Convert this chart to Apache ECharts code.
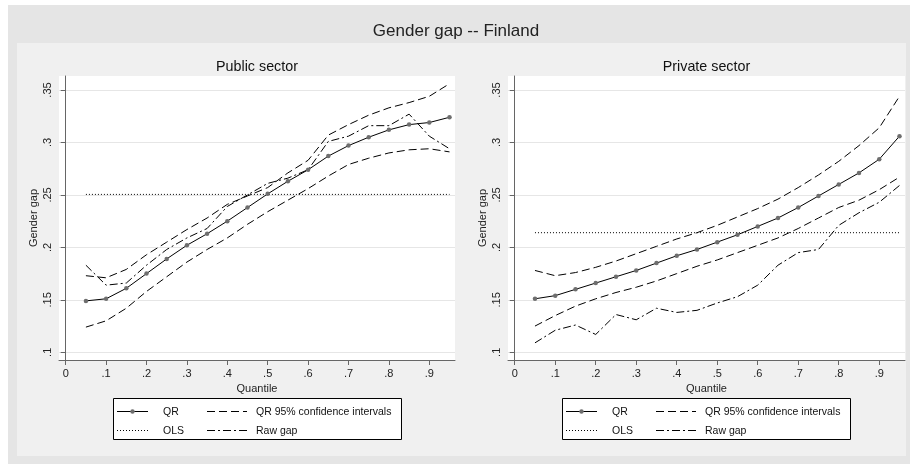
<!DOCTYPE html>
<html>
<head>
<meta charset="utf-8">
<script src="https://cdn.jsdelivr.net/npm/echarts@6/dist/echarts.min.js"></script>
<style>
  html, body { margin: 0; padding: 0; background: #ffffff; }
  #chart { width: 912px; height: 464px; }
</style>
</head>
<body>
<div id="chart"></div>
<script>
// Quantiles at which the regressions were estimated
const quantiles = [0.05, 0.10, 0.15, 0.20, 0.25, 0.30, 0.35, 0.40, 0.45, 0.50,
                   0.55, 0.60, 0.65, 0.70, 0.75, 0.80, 0.85, 0.90, 0.95];

// Axis tick values
const xTicks = [0, 0.1, 0.2, 0.3, 0.4, 0.5, 0.6, 0.7, 0.8, 0.9];
const yTicks = [0.1, 0.15, 0.2, 0.25, 0.3, 0.35];

// Public sector
const publicQR      = [0.149, 0.151, 0.161, 0.175, 0.189, 0.202, 0.213, 0.225, 0.238, 0.251,
                       0.263, 0.274, 0.287, 0.297, 0.305, 0.312, 0.317, 0.319, 0.324];
const publicCIUpper = [0.173, 0.171, 0.179, 0.193, 0.205, 0.217, 0.228, 0.241, 0.249, 0.257,
                       0.271, 0.283, 0.307, 0.317, 0.326, 0.333, 0.338, 0.344, 0.356];
const publicCILower = [0.124, 0.130, 0.142, 0.158, 0.172, 0.186, 0.198, 0.209, 0.222, 0.234,
                       0.245, 0.256, 0.268, 0.279, 0.285, 0.290, 0.293, 0.294, 0.291];
const publicRaw     = [0.183, 0.164, 0.166, 0.183, 0.198, 0.209, 0.218, 0.239, 0.250, 0.261,
                       0.266, 0.274, 0.301, 0.306, 0.316, 0.316, 0.327, 0.306, 0.294];
const publicOLS = 0.2505;

// Private sector
const privateQR      = [0.151, 0.154, 0.160, 0.166, 0.172, 0.178, 0.185, 0.192, 0.198, 0.205,
                        0.212, 0.220, 0.228, 0.238, 0.249, 0.260, 0.271, 0.284, 0.306];
const privateCIUpper = [0.178, 0.173, 0.176, 0.181, 0.187, 0.194, 0.201, 0.208, 0.214, 0.221,
                        0.229, 0.237, 0.246, 0.257, 0.269, 0.282, 0.297, 0.314, 0.344];
const privateCILower = [0.125, 0.135, 0.144, 0.151, 0.157, 0.162, 0.168, 0.175, 0.182, 0.188,
                        0.195, 0.202, 0.209, 0.218, 0.228, 0.238, 0.245, 0.255, 0.267];
const privateRaw     = [0.109, 0.121, 0.126, 0.117, 0.136, 0.131, 0.142, 0.138, 0.140, 0.147,
                        0.153, 0.164, 0.183, 0.195, 0.198, 0.221, 0.233, 0.243, 0.259];
const privateOLS = 0.214;

const FONT = '"Liberation Sans", Arial, Helvetica, sans-serif';
const AXIS_COLOR = '#666666';
const DASH = [8, 4];
const DOT = [1, 2];
const DASH_DOT = [8, 3, 2, 3];

const pairs = (vals) => quantiles.map((q, i) => [q, vals[i]]);
const flat = (v) => [[quantiles[0], v], [quantiles[quantiles.length - 1], v]];

const fmtX = (v) => (v === 0 ? '0' : v.toFixed(1).replace(/^0/, ''));
const fmtY = (v) => v.toFixed(2).replace(/0+$/, '').replace(/^0/, '');

function xAxisFor(gridIndex) {
  return {
    type: 'value', gridIndex,
    min: -0.0166, max: 0.9636,
    axisLine: { show: true, onZero: false, lineStyle: { color: AXIS_COLOR, width: 1 } },
    axisTick: { show: true, inside: false, length: 5, customValues: xTicks,
                lineStyle: { color: AXIS_COLOR } },
    axisLabel: { customValues: xTicks, formatter: fmtX, margin: 8,
                 color: '#222', fontSize: 11, fontFamily: FONT },
    splitLine: { show: false },
    name: 'Quantile', nameLocation: 'middle', nameGap: 19,
    nameTextStyle: { color: '#222', fontSize: 11, fontFamily: FONT }
  };
}

function yAxisFor(gridIndex) {
  return {
    type: 'value', gridIndex,
    min: 0.09266, max: 0.36334,
    axisLine: { show: true, lineStyle: { color: AXIS_COLOR, width: 1 } },
    axisTick: { show: true, inside: false, length: 5, customValues: yTicks,
                lineStyle: { color: AXIS_COLOR } },
    axisLabel: { customValues: yTicks, formatter: fmtY, rotate: 90, margin: 6,
                 color: '#222', fontSize: 11, fontFamily: FONT },
    splitLine: { show: true, lineStyle: { color: '#e6e6e6', width: 1 } },
    name: 'Gender gap', nameLocation: 'middle', nameGap: 20,
    nameTextStyle: { color: '#222', fontSize: 11, fontFamily: FONT }
  };
}

function panelSeries(idx, qr, up, lo, raw, ols) {
  const base = { type: 'line', xAxisIndex: idx, yAxisIndex: idx, silent: true, z: 3 };
  return [
    Object.assign({}, base, { name: 'OLS', data: flat(ols), symbol: 'none',
      lineStyle: { color: '#000', width: 1, type: DOT } }),
    Object.assign({}, base, { name: 'Raw gap', data: pairs(raw), symbol: 'none',
      lineStyle: { color: '#000', width: 1, type: DASH_DOT } }),
    Object.assign({}, base, { name: 'QR 95% confidence intervals', data: pairs(up), symbol: 'none',
      lineStyle: { color: '#000', width: 1, type: DASH } }),
    Object.assign({}, base, { name: 'QR 95% confidence intervals', data: pairs(lo), symbol: 'none',
      lineStyle: { color: '#000', width: 1, type: DASH } }),
    Object.assign({}, base, { name: 'QR', data: pairs(qr), symbol: 'circle', symbolSize: 4.5,
      itemStyle: { color: '#6e6e6e', borderWidth: 0 },
      lineStyle: { color: '#000', width: 1, type: 'solid' }, z: 4 })
  ];
}

// Key box drawn under each panel
function keyGraphics(dx) {
  const y1 = 411.5, y2 = 430.5;
  const txt = (x, y, s) => ({ type: 'text', x: x + dx, y, z: 6,
    style: { text: s, fill: '#111', font: '10.5px ' + FONT, verticalAlign: 'middle', align: 'left' } });
  const seg = (x1, x2, y, dash) => ({ type: 'line', z: 6,
    shape: { x1: x1 + dx, y1: y, x2: x2 + dx, y2: y },
    style: { stroke: '#000', lineWidth: 1, lineDash: dash || null } });
  return [
    { type: 'rect', z: 5, shape: { x: 113.5 + dx, y: 398.5, width: 288, height: 41 },
      style: { fill: '#ffffff', stroke: '#000', lineWidth: 1 } },
    seg(117, 148, y1),
    { type: 'circle', z: 7, shape: { cx: 132.5 + dx, cy: y1, r: 2.2 }, style: { fill: '#6e6e6e' } },
    txt(163, y1 + 0.5, 'QR'),
    seg(207, 247, y1, DASH),
    txt(256, y1 + 0.5, 'QR 95% confidence intervals'),
    seg(117, 150, y2, DOT),
    txt(163, y2 + 0.5, 'OLS'),
    seg(207, 247, y2, DASH_DOT),
    txt(256, y2 + 0.5, 'Raw gap')
  ];
}

const chart = echarts.init(document.getElementById('chart'), null, { renderer: 'canvas' });

chart.setOption({
  animation: false,
  backgroundColor: '#ffffff',
  textStyle: { fontFamily: FONT },
  title: [
    { text: 'Gender gap -- Finland', left: 456, top: 22.5, textAlign: 'center', padding: 0,
      textStyle: { fontSize: 17, fontWeight: 'normal', color: '#222', fontFamily: FONT } },
    { text: 'Public sector', left: 257, top: 60, textAlign: 'center', padding: 0,
      textStyle: { fontSize: 14.3, fontWeight: 'normal', color: '#111', fontFamily: FONT } },
    { text: 'Private sector', left: 706.5, top: 60, textAlign: 'center', padding: 0,
      textStyle: { fontSize: 14.3, fontWeight: 'normal', color: '#111', fontFamily: FONT } }
  ],
  grid: [
    { left: 59, top: 76, width: 396, height: 284, show: true, backgroundColor: '#ffffff', borderWidth: 0 },
    { left: 508, top: 76, width: 397, height: 284, show: true, backgroundColor: '#ffffff', borderWidth: 0 }
  ],
  xAxis: [xAxisFor(0), xAxisFor(1)],
  yAxis: [yAxisFor(0), yAxisFor(1)],
  series: [
    ...panelSeries(0, publicQR, publicCIUpper, publicCILower, publicRaw, publicOLS),
    ...panelSeries(1, privateQR, privateCIUpper, privateCILower, privateRaw, privateOLS)
  ],
  graphic: [
    { type: 'rect', z: -20, silent: true, shape: { x: 8, y: 5, width: 902, height: 459 },
      style: { fill: '#e5e5e5' } },
    { type: 'rect', z: -19, silent: true, shape: { x: 17, y: 43, width: 889, height: 413 },
      style: { fill: '#f0f0f0' } },
    ...keyGraphics(0),
    ...keyGraphics(449)
  ]
});
</script>
</body>
</html>
